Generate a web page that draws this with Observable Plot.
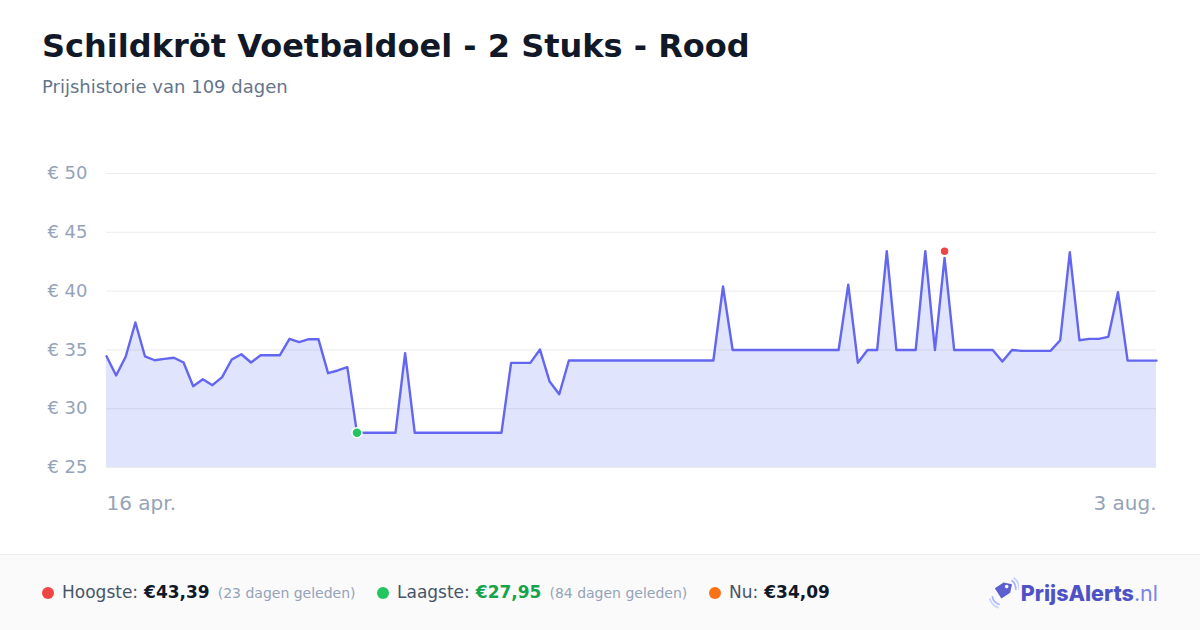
<!DOCTYPE html>
<html>
<head>
<meta charset="utf-8">
<script src="https://cdn.jsdelivr.net/npm/d3@7"></script>
<script src="https://cdn.jsdelivr.net/npm/@observablehq/plot@0.6"></script>
<style>
  html, body { margin: 0; padding: 0; background: #ffffff; }
  body { width: 1200px; height: 630px; position: relative; overflow: hidden; font-family: "DejaVu Sans", sans-serif; }
  #title { position: absolute; left: 42px; top: 27px; font-size: 32px; font-weight: bold; color: #111827; white-space: nowrap; }
  #subtitle { position: absolute; left: 42px; top: 76px; font-size: 18px; color: #64748b; white-space: nowrap; }
  #chart { position: absolute; left: 0; top: 120px; }
  #footer { position: absolute; left: 0; top: 554px; width: 1200px; height: 76px; background: #fafafa; border-top: 1px solid #ededed; }
  .item { position: absolute; top: 27px; font-size: 17px; color: #475569; white-space: nowrap; display: flex; align-items: baseline; }
  .dot { display: inline-block; width: 12px; height: 12px; border-radius: 50%; margin-right: 8px; position: relative; top: 1px; }
  .val { font-weight: bold; color: #111827; font-size: 17px; margin-left: 6px; }
  .ago { font-size: 14px; color: #94a3b8; margin-left: 8px; }
  #logo { position: absolute; right: 42px; top: 22px; display: flex; align-items: center; font-family: Inter, sans-serif; font-size: 21.5px; font-weight: 800; color: #4f52c4; }
  #logo .nl { font-weight: 400; color: #7c83e8; }
</style>
</head>
<body>
<div id="title"></div>
<div id="subtitle"></div>
<div id="chart"></div>
<div id="footer">
  <div class="item" style="left:42px"><span class="dot" style="background:#ef4444"></span>Hoogste:<span class="val" id="hi"></span><span class="ago" id="hiago"></span></div>
  <div class="item" style="left:377px"><span class="dot" style="background:#22c55e"></span>Laagste:<span class="val" id="lo" style="color:#16a34a"></span><span class="ago" id="loago"></span></div>
  <div class="item" style="left:709px"><span class="dot" style="background:#f97316"></span>Nu:<span class="val" id="now"></span></div>
  <div id="logo">
    <svg width="30" height="32" viewBox="0 0 28 30" style="margin-right:2px">
      <path d="M5 12 L12 5 L20 5 L20 13 L13 20 Z" fill="#5b5fd0" transform="rotate(12 12 13)"/>
      <circle cx="16.5" cy="9" r="1.7" fill="#fafafa"/>
      <path d="M21 3 A10 10 0 0 1 25 12" stroke="#a5b4fc" stroke-width="1.6" fill="none"/>
      <path d="M23 0.5 A13 13 0 0 1 28 12" stroke="#c7d2fe" stroke-width="1.6" fill="none"/>
      <path d="M3 18 A10 10 0 0 0 10 26" stroke="#a5b4fc" stroke-width="1.6" fill="none"/>
      <path d="M0.5 20 A13 13 0 0 0 9 29" stroke="#c7d2fe" stroke-width="1.6" fill="none"/>
    </svg>
    <span>PrijsAlerts</span><span class="nl">.nl</span>
  </div>
</div>
<script>
const titleText = "Schildkröt Voetbaldoel - 2 Stuks - Rood";
const subtitleText = "Prijshistorie van 109 dagen";
const startDate = "2025-04-16";
const prices = [
  34.46, 32.82, 34.44, 37.33, 34.44, 34.12, 34.24, 34.33, 33.93, 31.91,
  32.51, 32.00, 32.68, 34.18, 34.63, 33.93, 34.55, 34.55, 34.55, 35.94,
  35.66, 35.91, 35.91, 33.02, 33.25, 33.53, 27.95, 27.95, 27.95, 27.95,
  27.95, 34.72, 27.95, 27.95, 27.95, 27.95, 27.95, 27.95, 27.95, 27.95,
  27.95, 27.95, 33.90, 33.90, 33.90, 35.03, 32.31, 31.23, 34.10, 34.10,
  34.10, 34.10, 34.10, 34.10, 34.10, 34.10, 34.10, 34.10, 34.10, 34.10,
  34.10, 34.10, 34.10, 34.10, 40.39, 34.99, 34.99, 34.99, 34.99, 34.99,
  34.99, 34.99, 34.99, 34.99, 34.99, 34.99, 34.99, 40.54, 33.90, 34.99,
  34.99, 43.39, 34.99, 34.99, 34.99, 43.39, 34.99, 42.83, 34.99, 34.99,
  34.99, 34.99, 34.99, 34.01, 34.99, 34.92, 34.92, 34.92, 34.92, 35.82,
  43.30, 35.82, 35.94, 35.94, 36.11, 39.91, 34.09, 34.09, 34.09, 34.09
];
const yTicks = [25, 30, 35, 40, 45, 50];
const xTickLabels = ["16 apr.", "3 aug."];
const highest = { day: 87, price: 43.39, ago: 23 };
const lowest = { day: 26, price: 27.95, ago: 84 };
const current = 34.09;

const start = new Date(startDate + "T00:00:00Z");
const data = prices.map((p, i) => ({ date: d3.utcDay.offset(start, i), price: p }));
const endDate = data[data.length - 1].date;
const fmtEuro = v => "€" + v.toFixed(2).replace(".", ",");

document.getElementById("title").textContent = titleText;
document.getElementById("subtitle").textContent = subtitleText;
document.getElementById("hi").textContent = fmtEuro(highest.price);
document.getElementById("hiago").textContent = `(${highest.ago} dagen geleden)`;
document.getElementById("lo").textContent = fmtEuro(lowest.price);
document.getElementById("loago").textContent = `(${lowest.ago} dagen geleden)`;
document.getElementById("now").textContent = fmtEuro(current);

const hiPoint = [{ date: d3.utcDay.offset(start, highest.day), price: highest.price }];
const loPoint = [{ date: d3.utcDay.offset(start, lowest.day), price: lowest.price }];

const chart = Plot.plot({
  width: 1200,
  height: 420,
  marginLeft: 106,
  marginRight: 44,
  marginTop: 53,
  marginBottom: 73,
  style: { fontFamily: "DejaVu Sans, sans-serif", fontSize: "18px", background: "transparent" },
  x: { type: "utc", domain: [start, endDate] },
  y: { domain: [25, 50] },
  marks: [
    Plot.ruleY(yTicks, { stroke: "#ebebeb", strokeWidth: 1 }),
    Plot.areaY(data, { x: "date", y1: 25, y2: "price", fill: "#6378f1", fillOpacity: 0.2 }),
    Plot.lineY(data, { x: "date", y: "price", stroke: "#6366f1", strokeWidth: 2.4, strokeLinejoin: "round" }),
    Plot.axisY({ ticks: yTicks, tickSize: 0, tickPadding: 19, tickFormat: d => "€ " + d, fill: "#94a3b8", fontSize: 18, label: null }),
    Plot.axisX({ ticks: [start], tickSize: 0, tickPadding: 28, tickFormat: () => xTickLabels[0], textAnchor: "start", fill: "#94a3b8", fontSize: 20, label: null }),
    Plot.axisX({ ticks: [endDate], tickSize: 0, tickPadding: 28, tickFormat: () => xTickLabels[1], textAnchor: "end", fill: "#94a3b8", fontSize: 20, label: null }),
    Plot.dot(loPoint, { x: "date", y: "price", r: 5, fill: "#22c55e", stroke: "white", strokeWidth: 1.5 }),
    Plot.dot(hiPoint, { x: "date", y: "price", r: 4.5, fill: "#ef4444", stroke: "white", strokeWidth: 1.5 })
  ]
});
document.getElementById("chart").appendChild(chart);
</script>
</body>
</html>
